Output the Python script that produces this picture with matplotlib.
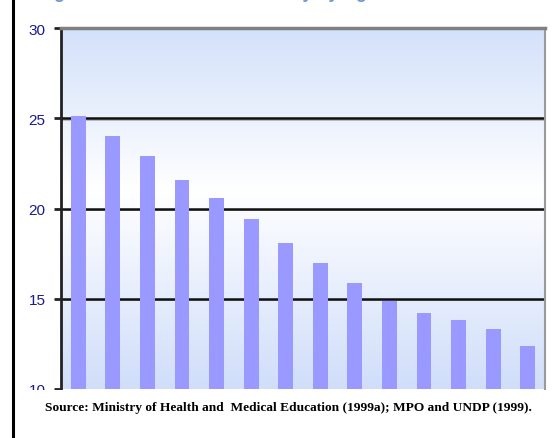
import matplotlib
matplotlib.use('Agg')
import matplotlib.pyplot as plt
import numpy as np
from matplotlib.colors import LinearSegmentedColormap
from matplotlib.patches import Rectangle
from matplotlib.lines import Line2D

# Bar values (percent), left to right
groups = ['1', '2', '3', '4', '5', '6', '7', '8', '9', '10', '11', '12', '13', '14']
poverty = [25.1, 24.0, 22.9, 21.6, 20.6, 19.4, 18.1, 17.0, 15.9, 14.9, 14.2, 13.8, 13.3, 12.4]
y_ticks = [10, 15, 20, 25, 30]
grid_levels = [15, 20, 25]

title = 'Figure 4: Trend of Rural Poverty by Age'
source = 'Source: Ministry of Health and  Medical Education (1999a); MPO and UNDP (1999).'


def main():
    W, H = 554, 439
    fig = plt.figure(figsize=(W / 100, H / 100), dpi=100)
    fig.patch.set_facecolor('white')

    ax = fig.add_axes([61 / W, (H - 390) / H, 484 / W, 361 / H])

    # Vertical gradient: blue at top and bottom, white near the middle
    cmap = LinearSegmentedColormap.from_list(
        'bg', [(0.0, '#d0defa'), (0.55, '#ffffff'), (1.0, '#d3e1fb')])
    grad = np.linspace(0, 1, 256).reshape(-1, 1)
    ax.imshow(grad, cmap=cmap, aspect='auto', origin='lower',
              extent=[0, 1, 0, 1], transform=ax.transAxes, zorder=0)

    x = np.arange(len(groups))
    ax.bar(x, poverty, width=0.43, bottom=0, color='#9999ff', zorder=3)

    for lvl in grid_levels:
        ax.axhline(lvl - 0.07, color='#b0b0b0', lw=1.2, zorder=2)
        ax.axhline(lvl, color='#111111', lw=1.8, zorder=2)

    ax.set_xlim(-0.5, len(groups) - 0.5)
    ax.set_ylim(10, 30)
    ax.set_yticks(y_ticks)
    ax.set_xticks([])
    ax.tick_params(axis='y', length=5, width=2, color='#222222', pad=6,
                   labelcolor='#1a1a8c', labelsize=11)
    for lbl in ax.get_yticklabels():
        lbl.set_family('Liberation Sans')

    ax.spines['top'].set_color('#808080')
    ax.spines['top'].set_linewidth(2.5)
    ax.spines['right'].set_color('#9a9a9a')
    ax.spines['right'].set_linewidth(1.5)
    ax.spines['left'].set_color('#222222')
    ax.spines['left'].set_linewidth(2)
    ax.spines['bottom'].set_visible(False)

    # White band at the bottom hides half of the "10" label, as in the scan
    fig.patches.append(Rectangle((0, 0), 1, (H - 391) / H, transform=fig.transFigure,
                                 facecolor='white', edgecolor='none', zorder=5))

    # Left page border line
    fig.add_artist(Line2D([13 / W, 13 / W], [0, 1], color='black', lw=2.2, zorder=6))

    # Title mostly cut off by the top edge, only its descenders show
    fig.text(38 / W, 1 + 1.5 / H, title, ha='left', va='baseline', color='#6a9ad8',
             fontsize=13, fontweight='bold', family='Liberation Sans', zorder=6)

    fig.text(288 / W, (H - 408) / H, source, ha='center', va='center',
             fontsize=9.6, fontweight='bold', family='Liberation Serif', zorder=6)

    fig.savefig('out.png', dpi=100)


if __name__ == '__main__':
    main()
